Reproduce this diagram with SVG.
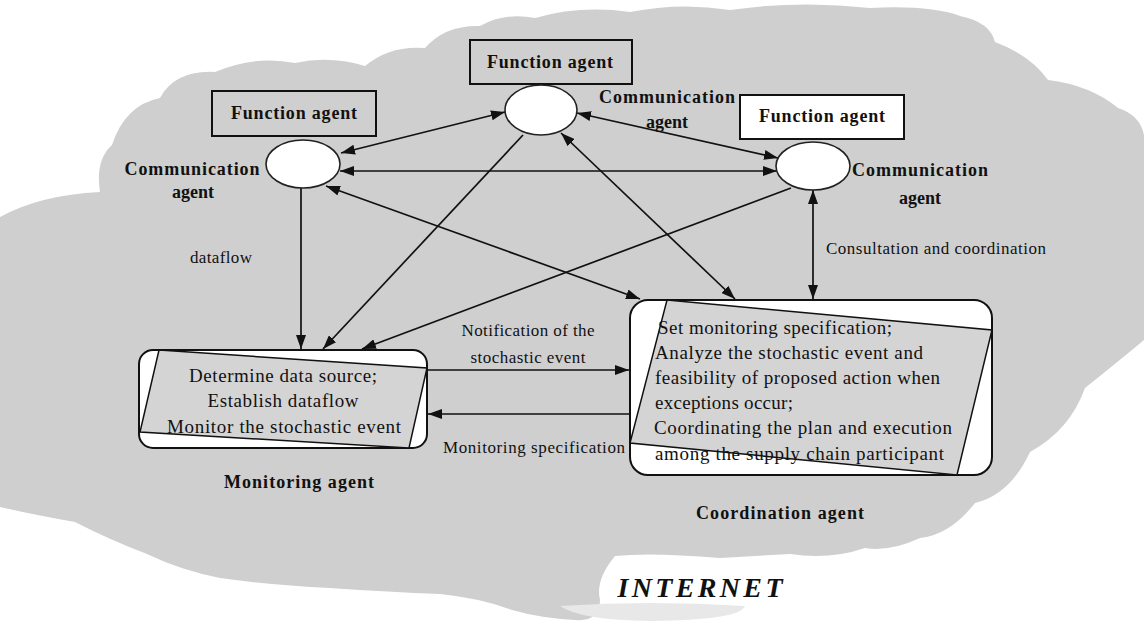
<svg xmlns="http://www.w3.org/2000/svg" width="1144" height="633" viewBox="0 0 1144 633">
<defs>
<style>
.t{font-family:"Liberation Serif","Times New Roman",serif;fill:#111;}
.b{font-weight:bold;}
.lbl{font-size:17px;}
.body{font-size:19px;}
.hd{font-size:18px;font-weight:bold;}
.box{fill:none;stroke:#111;stroke-width:2;}
.ell{fill:#fff;stroke:#222;stroke-width:1.6;}
.rr{fill:#fff;stroke:#111;stroke-width:2;}
.quad{fill:#d4d4d4;stroke:#111;stroke-width:1.5;}
.ln{fill:none;stroke:#111;stroke-width:1.7;}
</style>
<marker id="ah" viewBox="0 0 14 10" refX="14" refY="5" markerWidth="14" markerHeight="10" markerUnits="userSpaceOnUse" orient="auto-start-reverse">
<path d="M0,0 L14,5 L0,10 Z" fill="#111"/>
</marker>
</defs>
<rect width="1144" height="633" fill="#fff"/>
<g id="cloud">
<path fill="#cfcfcf" d="M0,217 Q40,195 100,192 Q95,160 112,145 Q125,105 160,98 Q175,70 215,72 Q255,55 295,63 Q330,55 365,66 Q390,45 425,48 Q445,25 480,26 Q505,12 535,18 Q580,5 630,12 Q680,2 730,10 Q800,0 870,8 Q930,5 960,16 Q990,22 995,42 Q1030,55 1048,80 Q1090,85 1118,108 Q1140,115 1144,135 L1144,340 Q1120,360 1085,388 Q1070,430 1030,452 Q1010,495 975,503 Q950,535 920,538 Q890,552 865,548 Q830,560 790,554 L720,558 Q650,552 615,556 Q595,580 600,600 Q600,622 575,620 Q540,618 512,610 Q480,598 440,594 Q390,592 330,588 Q270,585 220,578 Q180,570 147,554 Q110,540 75,522 Q35,515 0,507 Z"/>
<path fill="#e8e8e8" d="M560,606 Q650,600 745,606 Q740,620 650,621 Q580,620 560,606 Z"/>
</g>
<g id="connectors">
<line class="ln" x1="341" y1="153" x2="505" y2="112" marker-start="url(#ah)" marker-end="url(#ah)"/>
<line class="ln" x1="340" y1="171" x2="777" y2="171" marker-start="url(#ah)" marker-end="url(#ah)"/>
<line class="ln" x1="577" y1="113" x2="778" y2="158" marker-start="url(#ah)" marker-end="url(#ah)"/>
<line class="ln" x1="326" y1="186" x2="640" y2="299" marker-start="url(#ah)" marker-end="url(#ah)"/>
<line class="ln" x1="561" y1="133" x2="735" y2="299" marker-start="url(#ah)" marker-end="url(#ah)"/>
<line class="ln" x1="523" y1="135" x2="323" y2="349" marker-end="url(#ah)"/>
<line class="ln" x1="791" y1="188" x2="362" y2="349" marker-end="url(#ah)"/>
<line class="ln" x1="301" y1="188" x2="301" y2="349" marker-end="url(#ah)"/>
<line class="ln" x1="813" y1="190" x2="813" y2="299" marker-start="url(#ah)" marker-end="url(#ah)"/>
<line class="ln" x1="427" y1="370" x2="629" y2="370" marker-end="url(#ah)"/>
<line class="ln" x1="630" y1="414" x2="428" y2="414" marker-end="url(#ah)"/>
<text class="t lbl" x="221" y="263" text-anchor="middle" textLength="62">dataflow</text>
<text class="t lbl" x="936" y="254" text-anchor="middle" textLength="220">Consultation and coordination</text>
<text class="t lbl" x="528" y="336" text-anchor="middle" textLength="133">Notification of the</text>
<text class="t lbl" x="528" y="363" text-anchor="middle" textLength="115">stochastic event</text>
<text class="t lbl" x="534" y="453" text-anchor="middle" textLength="182">Monitoring specification</text>
</g>
<g id="function-agent-left">
<rect class="box" x="212" y="91" width="164" height="45"/>
<text class="t hd" x="294" y="119" text-anchor="middle" textLength="126">Function agent</text>
</g>
<g id="function-agent-top">
<rect class="box" x="470" y="40" width="162" height="44"/>
<text class="t hd" x="550" y="68" text-anchor="middle" textLength="126">Function agent</text>
</g>
<g id="function-agent-right">
<rect class="box" x="740" y="95" width="164" height="44" fill="#fff" style="fill:#fff"/>
<text class="t hd" x="822" y="122" text-anchor="middle" textLength="126">Function agent</text>
</g>
<g id="comm-agent-left">
<ellipse class="ell" cx="303" cy="164" rx="37" ry="24"/>
<text class="t hd" x="192" y="175" text-anchor="middle" textLength="135">Communication</text>
<text class="t hd" x="193" y="198" text-anchor="middle">agent</text>
</g>
<g id="comm-agent-top">
<ellipse class="ell" cx="541" cy="110" rx="36" ry="25"/>
<text class="t hd" x="667" y="103" text-anchor="middle" textLength="136">Communication</text>
<text class="t hd" x="667" y="128" text-anchor="middle">agent</text>
</g>
<g id="comm-agent-right">
<ellipse class="ell" cx="813" cy="166" rx="37" ry="24"/>
<text class="t hd" x="920" y="176" text-anchor="middle" textLength="136">Communication</text>
<text class="t hd" x="920" y="204" text-anchor="middle">agent</text>
</g>
<g id="monitoring-agent">
<rect class="rr" x="139" y="350" width="288" height="98" rx="14"/>
<path class="quad" d="M159,350 L427,368 L409,448 L140,432 Z"/>
<text class="t body" x="283" y="382" text-anchor="middle" textLength="188">Determine data source;</text>
<text class="t body" x="283" y="407" text-anchor="middle" textLength="151">Establish dataflow</text>
<text class="t body" x="284" y="433" text-anchor="middle" textLength="234">Monitor the stochastic event</text>
<text class="t b" style="font-size:18px" x="299" y="488" text-anchor="middle" textLength="150">Monitoring agent</text>
</g>
<g id="coordination-agent">
<rect class="rr" x="630" y="300" width="362" height="175" rx="18"/>
<path class="quad" d="M667,300 L992,330 L957,475 L630,443 Z"/>
<text class="t body" x="658" y="334" textLength="234">Set monitoring specification;</text>
<text class="t body" x="655" y="359" textLength="268">Analyze the stochastic event and</text>
<text class="t body" x="655" y="384" textLength="285">feasibility of proposed action when</text>
<text class="t body" x="655" y="409" textLength="138">exceptions occur;</text>
<text class="t body" x="654" y="434" textLength="298">Coordinating the plan and execution</text>
<text class="t body" x="655" y="460" textLength="289">among the supply chain participant</text>
<text class="t b" style="font-size:18px" x="780" y="519" text-anchor="middle" textLength="168">Coordination agent</text>
</g>
<g id="internet-label">
<text class="t" style="font-size:28px;font-weight:bold;font-style:italic" x="700" y="597" text-anchor="middle" textLength="165">INTERNET</text>
</g>
</svg>
